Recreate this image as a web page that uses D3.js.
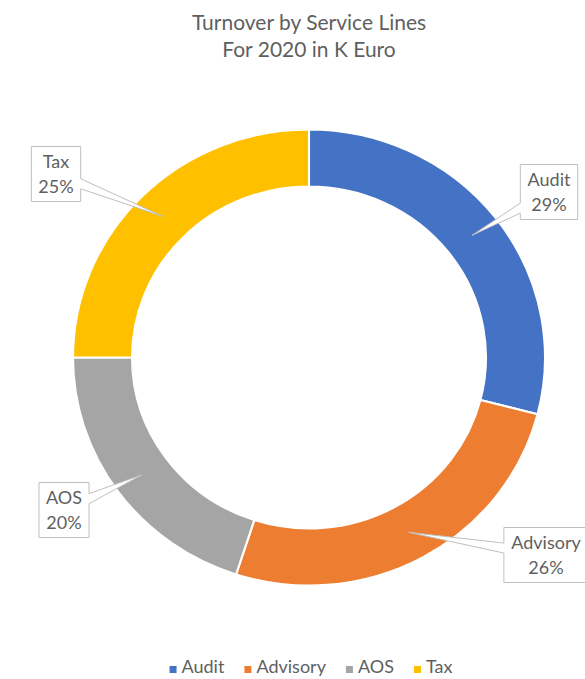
<!DOCTYPE html>
<html>
<head>
<meta charset="utf-8">
<script src="https://cdn.jsdelivr.net/npm/d3@7"></script>
<style>
  body { margin: 0; background: #fff; }
  svg { display: block; }
  text { font-family: Lato, "Open Sans", sans-serif; fill: #5f5f5f; }
</style>
</head>
<body>
<svg id="chart" width="585" height="679"></svg>
<script>
// data
var categories = ["Audit", "Advisory", "AOS", "Tax"];
var shares = [29, 26, 20, 25];           // percent of 2020 turnover
var colors = ["#4472C4", "#ED7D31", "#A5A5A5", "#FFC000"];
var titleLines = ["Turnover by Service Lines", "For 2020 in K Euro"];

// callout box centres (layout only)
var labelPos = {
  "Audit":    [549, 192],
  "Advisory": [546, 555],
  "AOS":      [64, 510],
  "Tax":      [56, 174]
};

var svg = d3.select("#chart"),
  width = +svg.attr("width"),
  height = +svg.attr("height");

var cx = 309, cy = 357.5, sx = 1.035;
var outerR = 228, innerR = 171;

// title
svg.append("g")
  .selectAll("text")
  .data(titleLines)
  .enter().append("text")
  .attr("x", 309)
  .attr("y", function(d, i) { return 30 + i * 26.5; })
  .attr("text-anchor", "middle")
  .attr("font-size", 21)
  .text(function(d) { return d; });

var data = categories.map(function(c, i) { return { name: c, value: shares[i], color: colors[i] }; });

var pie = d3.pie()
  .sort(null)
  .value(function(d) { return d.value; });

var arc = d3.arc()
  .innerRadius(innerR)
  .outerRadius(outerR);

var arcs = pie(data);

svg.append("g")
  .attr("transform", "translate(" + cx + "," + cy + ") scale(" + sx + ",1)")
  .selectAll("path")
  .data(arcs)
  .enter().append("path")
  .attr("d", arc)
  .attr("fill", function(d) { return d.data.color; })
  .attr("stroke", "#fff")
  .attr("stroke-width", 2);

// callout outline: rect with a wedge pointing at (tx,ty)
function calloutPath(bx, by, w, h, tx, ty, half) {
  var x0 = bx - w / 2, x1 = bx + w / 2, y0 = by - h / 2, y1 = by + h / 2;
  var dx = tx - bx, dy = ty - by;
  var side;
  if (Math.abs(dx) / (w / 2) > Math.abs(dy) / (h / 2)) side = dx > 0 ? "r" : "l";
  else side = dy > 0 ? "b" : "t";
  var pts = [[x0, y0]];
  if (side == "t") {
    var ex = Math.max(x0 + half + 2, Math.min(x1 - half - 2, bx + dx * (h / 2) / Math.abs(dy)));
    pts.push([ex - half, y0], [tx, ty], [ex + half, y0]);
  }
  pts.push([x1, y0]);
  if (side == "r") {
    var ey = Math.max(y0 + half + 2, Math.min(y1 - half - 2, by + dy * (w / 2) / Math.abs(dx)));
    pts.push([x1, ey - half], [tx, ty], [x1, ey + half]);
  }
  pts.push([x1, y1]);
  if (side == "b") {
    var ex2 = Math.max(x0 + half + 2, Math.min(x1 - half - 2, bx + dx * (h / 2) / Math.abs(dy)));
    pts.push([ex2 + half, y1], [tx, ty], [ex2 - half, y1]);
  }
  pts.push([x0, y1]);
  if (side == "l") {
    var ey2 = Math.max(y0 + half + 2, Math.min(y1 - half - 2, by + dy * (w / 2) / Math.abs(dx)));
    pts.push([x0, ey2 + half], [tx, ty], [x0, ey2 - half]);
  }
  return "M" + pts.map(function(p) { return p.join(","); }).join("L") + "Z";
}

var labels = svg.append("g").attr("class", "labels");

arcs.forEach(function(d) {
  var c = arc.centroid(d);
  var tx = cx + c[0] * sx, ty = cy + c[1];
  var p = labelPos[d.data.name];
  var g = labels.append("g");
  var path = g.append("path")
    .attr("fill", "#fff")
    .attr("stroke", "#bfbfbf")
    .attr("stroke-width", 1);
  var t = g.append("text")
    .attr("text-anchor", "middle")
    .attr("font-size", 18);
  t.append("tspan").attr("x", p[0]).attr("y", p[1] - 6).text(d.data.name);
  t.append("tspan").attr("x", p[0]).attr("y", p[1] + 19).text(d.data.value + "%");
  var w = t.node().getBBox().width + 14;
  path.attr("d", calloutPath(p[0], p[1], w, 55, tx, ty, 5));
});

// legend
var legend = svg.append("g").attr("class", "legend");
var lx = 0;
categories.forEach(function(c, i) {
  var item = legend.append("g").attr("transform", "translate(" + lx + ",0)");
  item.append("rect")
    .attr("x", 0).attr("y", -7)
    .attr("width", 7).attr("height", 7)
    .attr("fill", colors[i]);
  var t = item.append("text")
    .attr("x", 12).attr("y", 0)
    .attr("font-size", 18)
    .text(c);
  lx += 12 + t.node().getComputedTextLength() + 20;
});
lx -= 20;
legend.attr("transform", "translate(" + (311 - lx / 2) + ",673)");
</script>
</body>
</html>
